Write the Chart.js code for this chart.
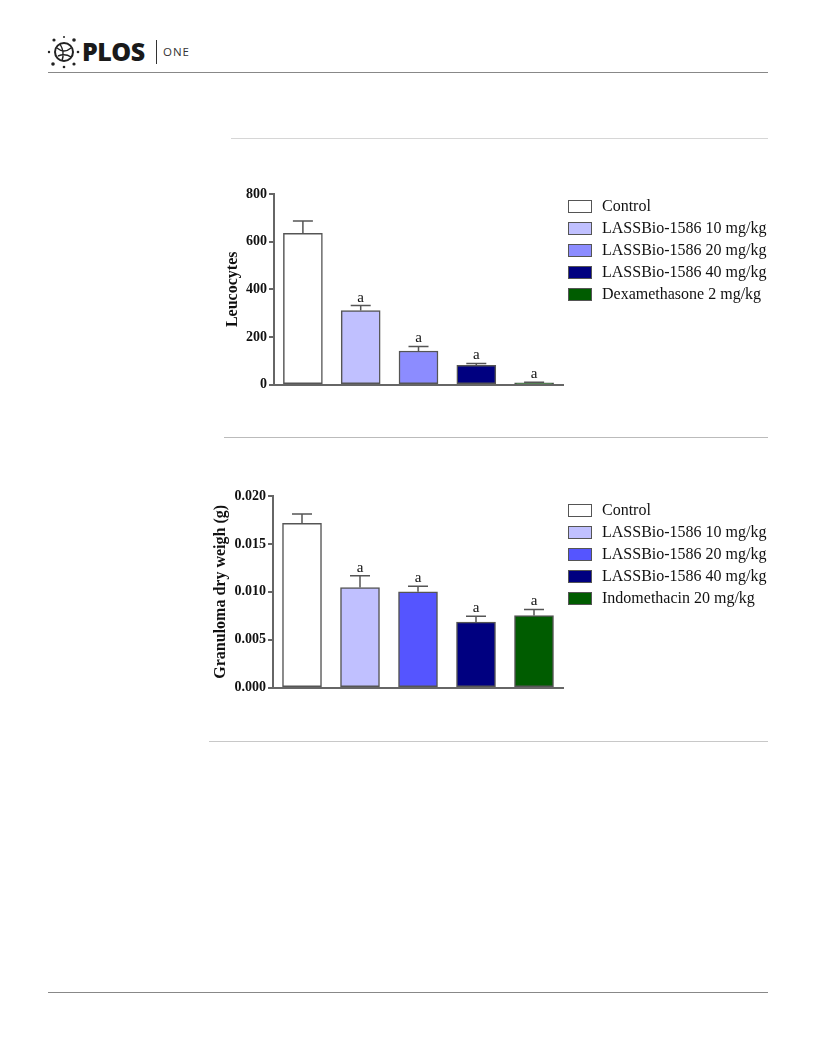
<!DOCTYPE html>
<html>
<head>
<meta charset="utf-8">
<script src="https://cdn.jsdelivr.net/npm/chart.js@4.4.1/dist/chart.umd.min.js"></script>
<style>
  html, body { margin: 0; padding: 0; background: #fff; }
  body { width: 816px; height: 1056px; position: relative; overflow: hidden; font-family: "Liberation Serif", "Times New Roman", serif; }
  .hline { position: absolute; height: 0; }
  .wrap { position: absolute; }
  .legend { position: absolute; font-family: "Liberation Serif", serif; font-size: 16px; color: #111; }
  .legend .row { position: absolute; left: 0; height: 22px; white-space: nowrap; }
  .legend .box { position: absolute; left: 0; width: 22px; height: 11px; border: 1.5px solid #555; }
  .legend .txt { position: absolute; left: 34px; line-height: 16px; }
</style>
</head>
<body>
<!-- header -->
<svg style="position:absolute;left:46px;top:34px" width="36" height="36" viewBox="0 0 36 36">
  <circle cx="18" cy="18" r="9" fill="none" stroke="#222" stroke-width="2"/>
  <path d="M11 14 Q18 20 25 14 M14 10 Q19 18 16 27 M12 22 Q19 19 25 23" fill="none" stroke="#222" stroke-width="1.4"/>
  <circle cx="8" cy="6" r="1.6" fill="#222"/>
  <circle cx="18" cy="3" r="1" fill="#222"/>
  <circle cx="28" cy="6" r="1.8" fill="#222"/>
  <circle cx="32" cy="18" r="1.3" fill="#222"/>
  <circle cx="28" cy="30" r="1.6" fill="#222"/>
  <circle cx="18" cy="33" r="1.3" fill="#222"/>
  <circle cx="7" cy="30" r="1.8" fill="#222"/>
  <circle cx="3" cy="18" r="1.2" fill="#222"/>
</svg>
<div style="position:absolute;left:82px;top:35px;font-family:'Open Sans',sans-serif;font-weight:800;font-size:25px;letter-spacing:-0.5px;color:#1a1a1a;line-height:32px;">PLOS</div>
<div style="position:absolute;left:156px;top:40px;width:1px;height:24px;background:#333;"></div>
<div style="position:absolute;left:163px;top:45px;font-family:'Open Sans',sans-serif;font-size:11.5px;letter-spacing:1px;color:#333;line-height:14px;">ONE</div>
<div class="hline" style="left:48px;top:72px;width:720px;border-top:1px solid #888;"></div>

<div class="hline" style="left:231px;top:138px;width:537px;border-top:1px solid #d6d6d6;"></div>
<div class="hline" style="left:224px;top:437px;width:544px;border-top:1px solid #bbb;"></div>
<div class="hline" style="left:209px;top:741px;width:559px;border-top:1px solid #c8c8c8;"></div>
<div class="hline" style="left:48px;top:992px;width:720px;border-top:1px solid #888;"></div>

<div class="wrap" style="left:200px;top:180px;width:380px;height:215px;"><canvas id="c1" width="380" height="215"></canvas></div>
<div class="wrap" style="left:200px;top:480px;width:380px;height:218px;"><canvas id="c2" width="380" height="218"></canvas></div>
<div class="legend" id="leg1" style="left:568px;top:198px;"></div>
<div class="legend" id="leg2" style="left:568px;top:502px;"></div>

<script>
// ---------- data ----------
const categories1 = ['Control', 'LASSBio-1586 10 mg/kg', 'LASSBio-1586 20 mg/kg', 'LASSBio-1586 40 mg/kg', 'Dexamethasone 2 mg/kg'];
const leucocytes = [635, 311, 141, 81, 7];
const leucocytesErr = [52, 21, 19, 8, 3];
const signif1 = ['', 'a', 'a', 'a', 'a'];
const yTicks1 = [0, 200, 400, 600, 800];
const colors1 = ['#ffffff', '#c0c0ff', '#8c8cff', '#000080', '#005c00'];

const categories2 = ['Control', 'LASSBio-1586 10 mg/kg', 'LASSBio-1586 20 mg/kg', 'LASSBio-1586 40 mg/kg', 'Indomethacin 20 mg/kg'];
const granuloma = [0.01715, 0.01045, 0.0100, 0.00683, 0.00753];
const granulomaErr = [0.00098, 0.00122, 0.00058, 0.00063, 0.00063];
const signif2 = ['', 'a', 'a', 'a', 'a'];
const yTicks2 = [0, 0.005, 0.010, 0.015, 0.020];
const colors2 = ['#ffffff', '#c0c0ff', '#5555ff', '#000080', '#005c00'];

// ---------- helpers ----------
const AX = '#666';
const errPlugin = {
  id: 'errbars',
  afterDatasetsDraw(chart) {
    const o = chart.options.plugins.errbars;
    const ctx = chart.ctx;
    const meta = chart.getDatasetMeta(0);
    const ys = chart.scales.y;
    const vals = chart.data.datasets[0].data;
    ctx.save();
    ctx.strokeStyle = '#555';
    ctx.lineWidth = 1.5;
    meta.data.forEach((bar, i) => {
      const x = bar.x;
      const y0 = ys.getPixelForValue(vals[i]);
      const y1 = ys.getPixelForValue(vals[i] + o.err[i]);
      ctx.beginPath();
      ctx.moveTo(x, y0);
      ctx.lineTo(x, y1);
      ctx.moveTo(x - 10, y1);
      ctx.lineTo(x + 10, y1);
      ctx.stroke();
      if (o.sig[i]) {
        ctx.fillStyle = '#111';
        ctx.font = '15px "Liberation Serif", serif';
        ctx.textAlign = 'center';
        ctx.textBaseline = 'alphabetic';
        ctx.fillText(o.sig[i], x, y1 - 4);
      }
    });
    ctx.restore();
  }
};

function makeChart(id, cats, vals, errs, sig, ticks, colors, title, axisW, titlePad, padTop, fmt) {
  return new Chart(document.getElementById(id), {
    type: 'bar',
    data: {
      labels: cats,
      datasets: [{
        data: vals,
        backgroundColor: colors,
        borderColor: '#555',
        borderWidth: 1.5,
        borderSkipped: false,
        barThickness: 39
      }]
    },
    options: {
      responsive: false,
      animation: false,
      layout: { padding: { left: 0, right: 17, top: padTop, bottom: 10 } },
      plugins: {
        legend: { display: false },
        tooltip: { enabled: false },
        errbars: { err: errs, sig: sig }
      },
      scales: {
        x: {
          grid: { display: false },
          border: { display: true, color: AX, width: 2 },
          ticks: { display: false },
          afterFit(s) { s.height = 0; }
        },
        y: {
          min: ticks[0],
          max: ticks[ticks.length - 1],
          afterBuildTicks(s) { s.ticks = ticks.map(v => ({ value: v })); },
          afterFit(s) { s.width = axisW; },
          grid: { display: true, drawOnChartArea: false, drawTicks: true, tickLength: 5, color: AX, lineWidth: 2 },
          border: { display: true, color: AX, width: 2 },
          ticks: {
            padding: 2,
            color: '#111',
            font: { family: '"Liberation Serif", serif', size: 14, weight: 'bold' },
            callback: fmt
          },
          title: {
            display: true,
            text: title,
            color: '#111',
            padding: { top: titlePad, bottom: 0 },
            font: { family: '"Liberation Serif", serif', size: 16, weight: 'bold' }
          }
        }
      }
    },
    plugins: [errPlugin]
  });
}

function makeLegend(id, cats, colors) {
  const el = document.getElementById(id);
  cats.forEach((c, i) => {
    const row = document.createElement('div');
    row.className = 'row';
    row.style.top = (i * 22) + 'px';
    const b = document.createElement('div');
    b.className = 'box';
    b.style.background = colors[i];
    b.style.top = '2px';
    const t = document.createElement('div');
    t.className = 'txt';
    t.textContent = c;
    t.style.top = '0px';
    row.appendChild(b);
    row.appendChild(t);
    el.appendChild(row);
  });
}

makeChart('c1', categories1, leucocytes, leucocytesErr, signif1, yTicks1, colors1, 'Leucocytes', 74, 23, 14, v => String(v));
makeChart('c2', categories2, granuloma, granulomaErr, signif2, yTicks2, colors2, 'Granuloma dry weigh (g)', 73, 11, 16, v => Number(v).toFixed(3));
makeLegend('leg1', categories1, colors1);
makeLegend('leg2', categories2, colors2);
</script>
</body>
</html>
